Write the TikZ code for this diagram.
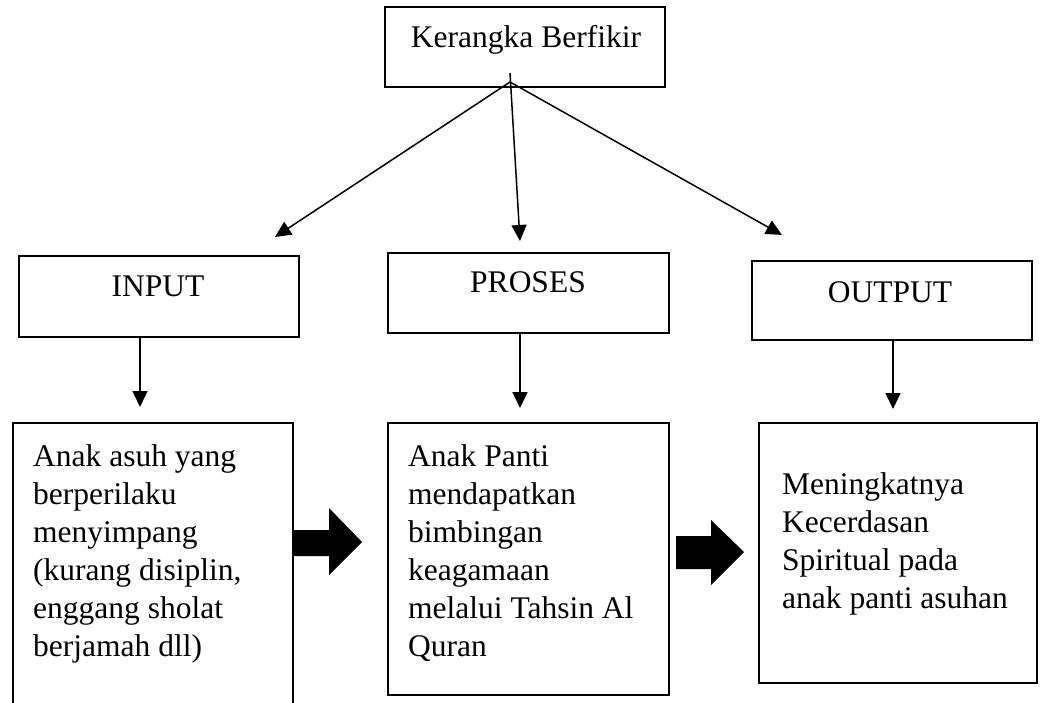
\documentclass[tikz,border=0pt]{standalone}
\usepackage{fontspec}
\setmainfont{Liberation Serif}
\usetikzlibrary{arrows.meta}
\tikzset{
  box/.style={draw=black, line width=2.3pt, inner sep=0pt, rectangle},
  lbl/.style={inner sep=0pt, font=\fontsize{31.5}{38}\selectfont},
  conn/.style={line width=1.5pt, -{Triangle[length=16pt,width=15pt]}},
  bigarrow/.style={fill=black}
}
\begin{document}
\begin{tikzpicture}[x=1pt,y=-1pt]
\useasboundingbox (0,0) rectangle (1041,703);
\clip (0,0) rectangle (1041,703);
\fill[white] (0,0) rectangle (1041,703);
% boxes
\node[box, minimum width=280pt, minimum height=80pt] (top) at (525,47) {};
\node[box, minimum width=280pt, minimum height=81pt] (inbox) at (159,296.5) {};
\node[box, minimum width=281pt, minimum height=80pt] (prbox) at (528.5,293) {};
\node[box, minimum width=280pt, minimum height=79pt] (outbox) at (892,300.5) {};
\node[box, minimum width=280pt, minimum height=297pt] (b1) at (153,571.5) {};
\node[box, minimum width=281pt, minimum height=272pt] (b2) at (528.5,559) {};
\node[box, minimum width=278pt, minimum height=260pt] (b3) at (898,553) {};
% labels
\node[lbl, anchor=base] (toptxt) at (526,48) {Kerangka Berfikir};
\node[lbl, anchor=base] (intxt) at (158,297) {INPUT};
\node[lbl, anchor=base] (prtxt) at (528,293) {PROSES};
\node[lbl, anchor=base] (outtxt) at (890,302) {OUTPUT};
\node[lbl, anchor=base west] (b1txt) at (33,466) {\vtop{\hbox{Anak asuh yang}\hbox{berperilaku}\hbox{menyimpang}\hbox{(kurang disiplin,}\hbox{enggang sholat}\hbox{berjamah dll)}}};
\node[lbl, anchor=base west] (b2txt) at (408,466) {\vtop{\hbox{Anak Panti}\hbox{mendapatkan}\hbox{bimbingan}\hbox{keagamaan}\hbox{melalui Tahsin Al}\hbox{Quran}}};
\node[lbl, anchor=base west] (b3txt) at (782,494) {\vtop{\hbox{Meningkatnya}\hbox{Kecerdasan}\hbox{Spiritual pada}\hbox{anak panti asuhan}}};
% top connectors
\coordinate (apex) at (510,82);
\coordinate (apextop) at (510,73);
\coordinate (tipL) at (275,237);
\coordinate (tipC) at (520,241);
\coordinate (tipR) at (782,235);
\draw[conn] (apex) -- (tipL);
\draw[conn] (apextop) -- (tipC);
\draw[conn] (apex) -- (tipR);
% vertical connectors
\coordinate (tin) at (140,407);
\coordinate (tpr) at (520,408);
\coordinate (tout) at (893,409);
\draw[conn] (tin |- inbox.south) -- (tin);
\draw[conn] (tpr |- prbox.south) -- (tpr);
\draw[conn] (tout |- outbox.south) -- (tout);
% block arrows
\fill[bigarrow] (293,530) -- (329,530) -- (329,508) -- (362,542) -- (329,575) -- (329,556) -- (293,556) -- cycle;
\fill[bigarrow] (676,536) -- (711,536) -- (711,520) -- (744,552) -- (711,585) -- (711,569) -- (676,569) -- cycle;
\end{tikzpicture}
\end{document}
